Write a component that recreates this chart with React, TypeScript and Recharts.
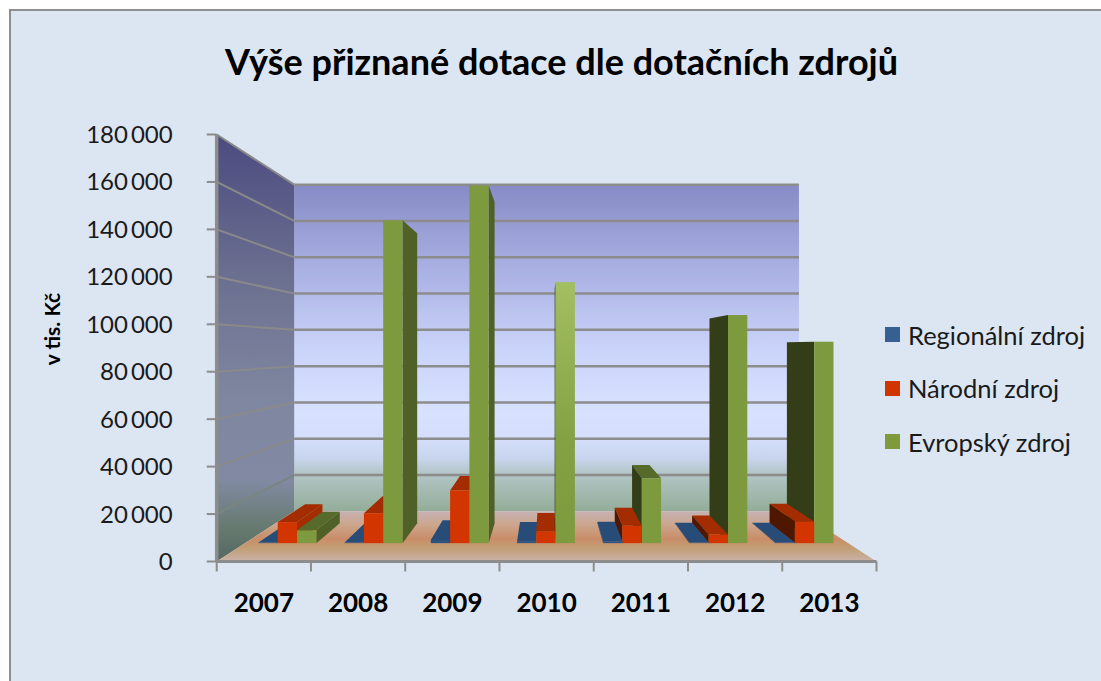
import { ComposedChart, Bar, XAxis, YAxis, Legend, Customized } from 'recharts';

const years = ['2007', '2008', '2009', '2010', '2011', '2012', '2013'];
const regional = [300, 300, 1500, 700, 800, 300, 300];
const national = [9700, 13800, 24300, 5200, 8000, 4000, 10000];
const european = [5900, 148900, 165000, 120400, 29900, 105200, 92900];
const yTicks = [0, 20000, 40000, 60000, 80000, 100000, 120000, 140000, 160000, 180000];

const seriesNames = ['Regionální zdroj', 'Národní zdroj', 'Evropský zdroj'];
const seriesKeys = ['regional', 'national', 'european'];
const seriesValues = [regional, national, european];
const lastLeftIndex = 3;

// one value per bar, split so the right half of the chart can paint back to front
const table = years.map((year, i) => {
  const row: Record<string, string | number | null> = { year };
  seriesKeys.forEach((key, s) => {
    row[key + 'Left'] = i <= lastLeftIndex ? seriesValues[s][i] : null;
    row[key + 'Right'] = i > lastLeftIndex ? seriesValues[s][i] : null;
  });
  return row;
});

const faces: Record<string, { front: string; top: string; right: string; left: string }> = {
  regional: { front: '#2b5382', top: '#284c78', right: '#1f3c60', left: '#1f3c60' },
  national: { front: '#d23500', top: '#a32c00', right: '#a32c00', left: '#4f1600' },
  european: { front: '#7d9a3e', top: '#566b2b', right: '#4f6127', left: '#333d17' },
};
const legendColors = ['#376092', '#d03500', '#7f9a3b'];

const W = 1101;
const H = 681;
const plot = { left: 216.7, right: 876.5, top: 134.5, bottom: 561.5 };
const vanish = { x: 546.5, y: 348 };
const backScale = 0.765;
const barDepth = 0.102;
const gridColor = '#8c8c8c';

const toward = (p: number, v: number, s: number) => v + (p - v) * s;

function Walls() {
  const lx = toward(plot.left, vanish.x, backScale);
  const rx = toward(plot.right, vanish.x, backScale);
  const ty = toward(plot.top, vanish.y, backScale);
  const by = toward(plot.bottom, vanish.y, backScale);
  const yOf = (v: number) => plot.bottom - (v / 180000) * (plot.bottom - plot.top);
  return (
    <g>
      <defs>
        <linearGradient id="backWall" x1="0" y1="0" x2="0" y2="1">
          <stop offset="0" stopColor="#878bc6" />
          <stop offset="0.3" stopColor="#afb6e7" />
          <stop offset="0.5" stopColor="#cad3f9" />
          <stop offset="0.7" stopColor="#d8e2ff" />
          <stop offset="0.78" stopColor="#d4defc" />
          <stop offset="0.84" stopColor="#c8d4ec" />
          <stop offset="0.885" stopColor="#b3c5c6" />
          <stop offset="1" stopColor="#93ad98" />
        </linearGradient>
        <linearGradient id="sideWall" x1="0" y1="0" x2="0" y2="1">
          <stop offset="0" stopColor="#4b4b80" />
          <stop offset="0.34" stopColor="#6c7090" />
          <stop offset="0.62" stopColor="#7f87a0" />
          <stop offset="0.81" stopColor="#818aa2" />
          <stop offset="0.92" stopColor="#667a70" />
          <stop offset="1" stopColor="#566860" />
        </linearGradient>
        <linearGradient id="floor" x1="0" y1="0" x2="0" y2="1">
          <stop offset="0" stopColor="#c6b1b3" />
          <stop offset="0.25" stopColor="#cca78f" />
          <stop offset="0.55" stopColor="#c98d68" />
          <stop offset="0.75" stopColor="#c1a077" />
          <stop offset="1" stopColor="#cbb1aa" />
        </linearGradient>
        <linearGradient id="green2010" x1="0" y1="0" x2="0" y2="1">
          <stop offset="0" stopColor="#a3bf62" />
          <stop offset="0.6" stopColor="#84a144" />
          <stop offset="1" stopColor="#7d9a3e" />
        </linearGradient>
      </defs>
      <polygon points={`${lx},${ty} ${rx},${ty} ${rx},${by} ${lx},${by}`} fill="url(#backWall)" />
      <polygon
        points={`${plot.left},${plot.top} ${lx},${ty} ${lx},${by} ${plot.left},${plot.bottom}`}
        fill="url(#sideWall)"
      />
      <polygon
        points={`${plot.left},${plot.bottom} ${plot.right},${plot.bottom} ${rx},${by} ${lx},${by}`}
        fill="url(#floor)"
      />
      {yTicks.map((t) => {
        const y = yOf(t);
        const yb = toward(y, vanish.y, backScale);
        return (
          <g key={t}>
            {t > 0 && (
              <line
                x1={plot.left}
                y1={y}
                x2={lx}
                y2={yb}
                stroke={t === 20000 ? '#7b8580' : '#8a8a8a'}
                strokeWidth={2}
              />
            )}
            {t > 0 && <line x1={lx} y1={yb} x2={rx} y2={yb} stroke={gridColor} strokeWidth={2.5} />}
          </g>
        );
      })}
    </g>
  );
}

function makePrism(key: string) {
  const c = faces[key];
  return function Prism(props: any) {
    const { x, y, width, height, index } = props;
    if (!height || height <= 0) return <g />;
    const r = x + width;
    const b = y + height;
    const s = 1 - barDepth;
    const bx = (p: number) => toward(p, vanish.x, s);
    const by = (p: number) => toward(p, vanish.y, s);
    const front = key === 'european' && index === 3 ? 'url(#green2010)' : c.front;
    return (
      <g>
        {y > vanish.y && (
          <polygon points={`${x},${y} ${r},${y} ${bx(r)},${by(y)} ${bx(x)},${by(y)}`} fill={c.top} />
        )}
        {r < vanish.x && (
          <polygon points={`${r},${y} ${bx(r)},${by(y)} ${bx(r)},${by(b)} ${r},${b}`} fill={c.right} />
        )}
        {x > vanish.x && (
          <polygon points={`${x},${y} ${bx(x)},${by(y)} ${bx(x)},${by(b)} ${x},${b}`} fill={c.left} />
        )}
        <rect x={x} y={y} width={width} height={height} fill={front} />
      </g>
    );
  };
}

// year label in the middle of its band, tick marks on the band edges
function YearTick(props: any) {
  const { x, y, payload, index } = props;
  const half = (plot.right - plot.left) / years.length / 2;
  const edge = (ex: number) => (
    <line x1={ex} y1={plot.bottom} x2={ex} y2={plot.bottom + 10} stroke={gridColor} strokeWidth={2} />
  );
  return (
    <g>
      {edge(x - half)}
      {index === years.length - 1 && edge(x + half)}
      <text x={x} y={y} dy={24.5} textAnchor="middle" fill="#000" fontFamily="Lato" fontWeight={700} fontSize={26}>
        {payload.value}
      </text>
    </g>
  );
}

const paintOrder = [
  ['regional', 'Left'],
  ['national', 'Left'],
  ['european', 'Left'],
  ['european', 'Right'],
  ['national', 'Right'],
  ['regional', 'Right'],
];

function LegendBox() {
  return (
    <div>
      {seriesNames.map((name, i) => (
        <div key={name} style={{ display: 'flex', alignItems: 'center', height: 53.5 }}>
          <span style={{ width: 15, height: 15, background: legendColors[i], marginRight: 8 }} />
          <span style={{ fontFamily: 'Lato', fontSize: 25.5, color: '#1a1a1a', whiteSpace: 'nowrap' }}>{name}</span>
        </div>
      ))}
    </div>
  );
}

export default function App() {
  return (
    <div style={{ position: 'absolute', left: 0, top: 0, width: W, height: H, background: '#fff', overflow: 'hidden' }}>
      <div
        style={{
          position: 'absolute',
          left: 9,
          top: 9,
          right: 0,
          bottom: 0,
          background: '#dce6f2',
          borderLeft: '2.5px solid #8f8f8f',
          borderTop: '2.5px solid #8f8f8f',
        }}
      />
      <div
        style={{
          position: 'absolute',
          left: 0,
          width: 1123,
          top: 39,
          textAlign: 'center',
          fontFamily: 'Lato',
          fontWeight: 700,
          fontSize: 36,
          color: '#000',
        }}
      >
        Výše přiznané dotace dle dotačních zdrojů
      </div>
      <div
        style={{
          position: 'absolute',
          left: 51,
          top: 329,
          transform: 'translate(-50%, -50%) rotate(-90deg)',
          fontFamily: 'Lato',
          fontWeight: 700,
          fontSize: 21,
          color: '#000',
          whiteSpace: 'nowrap',
        }}
      >
        v tis. Kč
      </div>
      <div style={{ position: 'absolute', left: 0, top: 0 }}>
        <ComposedChart
          width={W}
          height={H}
          data={table}
          barGap={0}
          margin={{ top: plot.top, right: W - plot.right, bottom: 0, left: 0 }}
        >
          <Customized component={<Walls />} />
          <XAxis xAxisId="bars" dataKey="year" hide height={0} padding={{ left: 27.7, right: 28.7 }} />
          <YAxis yAxisId="bars" hide width={0} type="number" domain={[-8466, 188466]} allowDataOverflow />
          <XAxis
            xAxisId="years"
            dataKey="year"
            height={H - plot.bottom}
            tickSize={10}
            tickMargin={16}
            axisLine={{ stroke: gridColor, strokeWidth: 3 }}
            tickLine={false}
            tick={<YearTick />}
            interval={0}
          />
          <YAxis
            yAxisId="values"
            type="number"
            width={plot.left}
            domain={[0, 180000]}
            allowDataOverflow
            ticks={yTicks}
            interval={0}
            tickSize={10}
            tickMargin={34}
            axisLine={{ stroke: gridColor, strokeWidth: 3.5 }}
            tickLine={{ stroke: gridColor, strokeWidth: 2 }}
            tick={{ fill: '#1a1a1a', fontFamily: 'Lato', fontSize: 24 }}
            tickFormatter={(v: number) => String(v).replace(/\B(?=(\d{3})+$)/g, '\u2009')}
          />
          {paintOrder.map(([key, side]) => (
            <Bar
              key={key + side}
              dataKey={key + side}
              xAxisId="bars"
              yAxisId="bars"
              stackId={key}
              barSize={19.3}
              shape={makePrism(key)}
              isAnimationActive={false}
            />
          ))}
          <Legend
            layout="horizontal"
            verticalAlign="middle"
            align="center"
            content={<LegendBox />}
            wrapperStyle={{ left: 885, top: 308, width: 216 }}
          />
        </ComposedChart>
      </div>
    </div>
  );
}
